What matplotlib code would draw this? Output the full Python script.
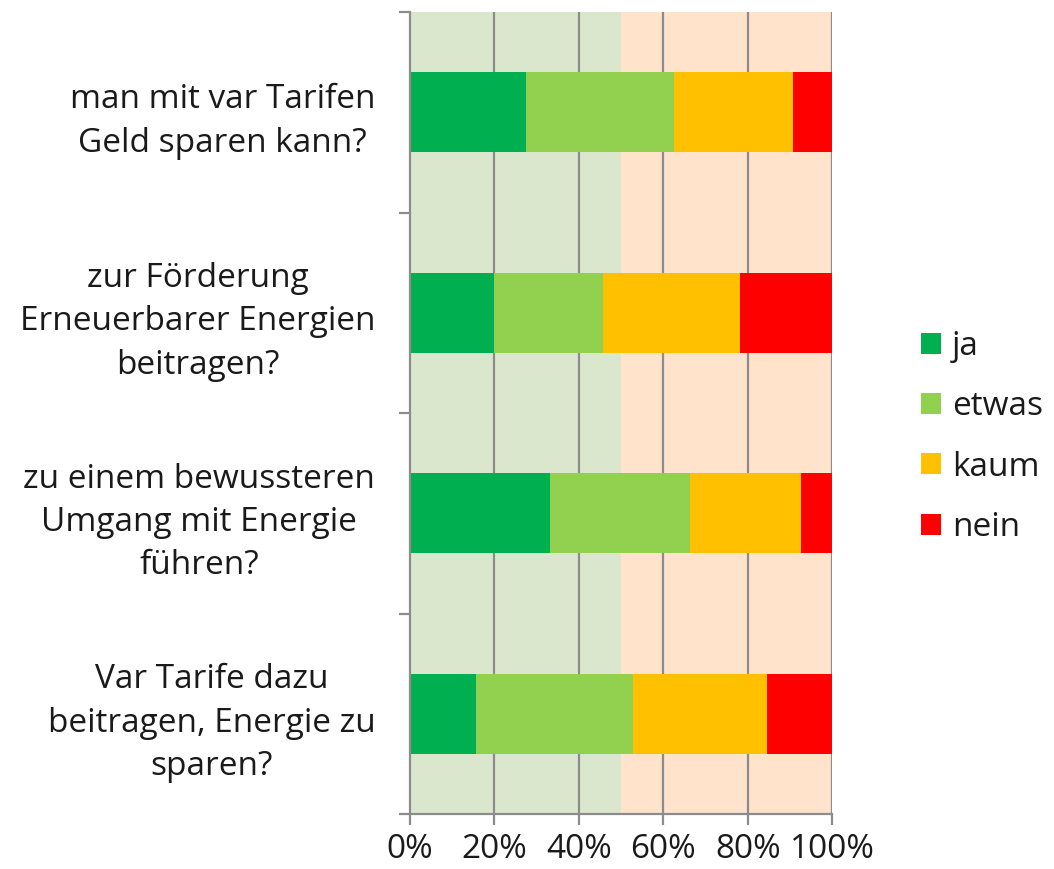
import matplotlib
matplotlib.use("Agg")
import matplotlib.pyplot as plt
import numpy as np

plt.rcParams['font.family'] = ['Open Sans', 'DejaVu Sans']

categories = [
    "man mit var Tarifen\nGeld sparen kann?",
    "zur Förderung\nErneuerbarer Energien\nbeitragen?",
    "zu einem bewussteren\nUmgang mit Energie\nführen?",
    "Var Tarife dazu\nbeitragen, Energie zu\nsparen?",
]
series_names = ["ja", "etwas", "kaum", "nein"]
ja = [27.5, 20.0, 33.2, 15.6]
etwas = [35.0, 25.7, 33.1, 37.2]
kaum = [28.3, 32.5, 26.4, 31.7]
nein = [9.2, 21.8, 7.3, 15.5]
x_ticks = [0, 20, 40, 60, 80, 100]
x_tick_labels = ["0%", "20%", "40%", "60%", "80%", "100%"]

colors = ["#00B050", "#92D050", "#FFC000", "#FF0000"]
bg_green = "#DBE7CC"
bg_peach = "#FFE3CA"
grid_col = "#8C8C8C"
txt_col = "#1A1A1A"

fig = plt.figure(figsize=(10.54, 8.69), dpi=100)
ax = fig.add_axes([410/1054, 55/869, 422.3/1054, 802/869])

n = len(categories)
ypos = np.arange(n) + 0.5  # centers

ax.axvspan(0, 50, color=bg_green, zorder=0, lw=0)
ax.axvspan(50, 100, color=bg_peach, zorder=0, lw=0)
for xv in x_ticks[1:]:
    ax.axvline(xv, color=grid_col, lw=1.6, zorder=1)

left = np.zeros(n)
for name, vals, c in zip(series_names, [ja, etwas, kaum, nein], colors):
    vals = np.array(vals)
    ax.barh(ypos, vals, left=left, height=0.4, color=c, label=name, zorder=2, lw=0)
    left += vals

ax.set_xlim(0, 100)
ax.set_ylim(n, 0)

ax.set_xticks(x_ticks)
ax.set_xticklabels(x_tick_labels, fontsize=24, color=txt_col)
ax.tick_params(axis='x', direction='out', length=8, width=1.6, color=grid_col, pad=6)

ax.set_yticks(np.arange(n + 1))
ax.set_yticklabels([])
ax.tick_params(axis='y', which='major', direction='out', length=8, width=1.6, color=grid_col)
ax.set_yticks(ypos, minor=True)
ax.set_yticklabels(categories, minor=True, fontsize=24, color=txt_col,
                   multialignment='center', linespacing=1.42)
ax.tick_params(axis='y', which='minor', length=0, pad=25)

for s in ['top', 'right']:
    ax.spines[s].set_visible(False)
for s in ['left', 'bottom']:
    ax.spines[s].set_color(grid_col)
    ax.spines[s].set_linewidth(1.6)
    ax.spines[s].set_zorder(3)

fig.legend(loc='center left', bbox_to_anchor=(904/1054, 1 - 437/869), frameon=False,
           fontsize=24, handlelength=0.6, handleheight=0.6, handletextpad=0.33,
           labelspacing=0.82, labelcolor=txt_col, borderpad=0)

fig.savefig("out.png", dpi=100)
